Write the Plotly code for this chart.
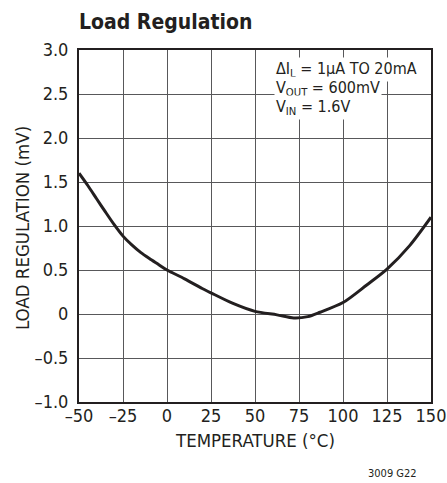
import plotly.graph_objects as go

# curve
temperature = [-50, -45, -40, -35, -30, -25, -20, -15, -10, -5, 0, 10, 20, 25, 37.5,
               50, 62.5, 72, 80, 87, 100, 113.5, 125, 138, 150]
load_reg = [1.60, 1.46, 1.31, 1.16, 1.015, 0.885, 0.785, 0.70, 0.63, 0.565, 0.50, 0.40, 0.29, 0.24, 0.12,
            0.03, -0.01, -0.045, -0.03, 0.02, 0.13, 0.33, 0.51, 0.78, 1.10]

x_ticks = [-50, -25, 0, 25, 50, 75, 100, 125, 150]
x_labels = ["–50", "–25", "0", "25", "50", "75", "100", "125", "150"]
y_ticks = [-1.0, -0.5, 0, 0.5, 1.0, 1.5, 2.0, 2.5, 3.0]
y_labels = ["–1.0", "–0.5", "0", "0.5", "1.0", "1.5", "2.0", "2.5", "3.0"]

conditions = ["ΔI<sub>L</sub> = 1µA TO 20mA", "V<sub>OUT</sub> = 600mV", "V<sub>IN</sub> = 1.6V"]
cond_y = [2.784, 2.557, 2.341]

FONT = "DejaVu Sans Condensed, sans-serif"
INK = "#231f20"
GRID = "#58585a"

fig = go.Figure()
fig.add_trace(go.Scatter(
    x=temperature, y=load_reg, mode="lines",
    line=dict(color=INK, width=3, shape="spline", smoothing=0.8),
    hoverinfo="skip", showlegend=False,
))

axis_style = dict(
    showgrid=True, gridcolor=GRID, gridwidth=1,
    showline=True, linecolor=INK, linewidth=2, mirror=True,
    ticks="", zeroline=False, fixedrange=True, automargin=False,
    tickfont=dict(family=FONT, size=18, color=INK),
)
fig.update_xaxes(range=[-50, 150], tickvals=x_ticks, ticktext=x_labels,
                 ticklabelstandoff=-4, **axis_style)
fig.update_yaxes(range=[-1, 3], tickvals=y_ticks, ticktext=y_labels,
                 ticklabelstandoff=5, **axis_style)

for text, yv in zip(conditions, cond_y):
    fig.add_annotation(
        x=60.8, y=yv, xref="x", yref="y", text=text, showarrow=False,
        xanchor="left", yanchor="middle", bgcolor="white", borderpad=1,
        font=dict(family=FONT, size=16, color=INK),
    )

# title and axis labels
fig.add_annotation(
    x=0, y=1, xref="paper", yref="paper", text="<b>Load Regulation</b>",
    showarrow=False, xanchor="left", yanchor="bottom", yshift=14, xshift=-2,
    font=dict(family=FONT, size=21, color=INK),
)
fig.add_annotation(
    x=0.5, y=0, xref="paper", yref="paper", text="TEMPERATURE (°C)",
    showarrow=False, xanchor="center", yanchor="middle", yshift=-38,
    font=dict(family=FONT, size=18.5, color=INK),
)
fig.add_annotation(
    x=0, y=0.5, xref="paper", yref="paper", text="LOAD REGULATION (mV)",
    showarrow=False, xanchor="center", yanchor="middle", xshift=-57, yshift=-2,
    textangle=-90,
    font=dict(family=FONT, size=18.5, color=INK),
)
fig.add_annotation(
    x=1, y=0, xref="paper", yref="paper", text="3009 G22",
    showarrow=False, xanchor="right", yanchor="middle", xshift=-12, yshift=-71,
    font=dict(family=FONT, size=11, color=INK),
)

fig.update_layout(
    width=447, height=483,
    margin=dict(l=79, r=16, t=50, b=81),
    plot_bgcolor="white", paper_bgcolor="white",
    showlegend=False,
)

# drop the default body margin so the figure sits at the page origin
fig.write_html("out.html", config={"displayModeBar": False},
               post_script="document.body.style.margin = '0';")
